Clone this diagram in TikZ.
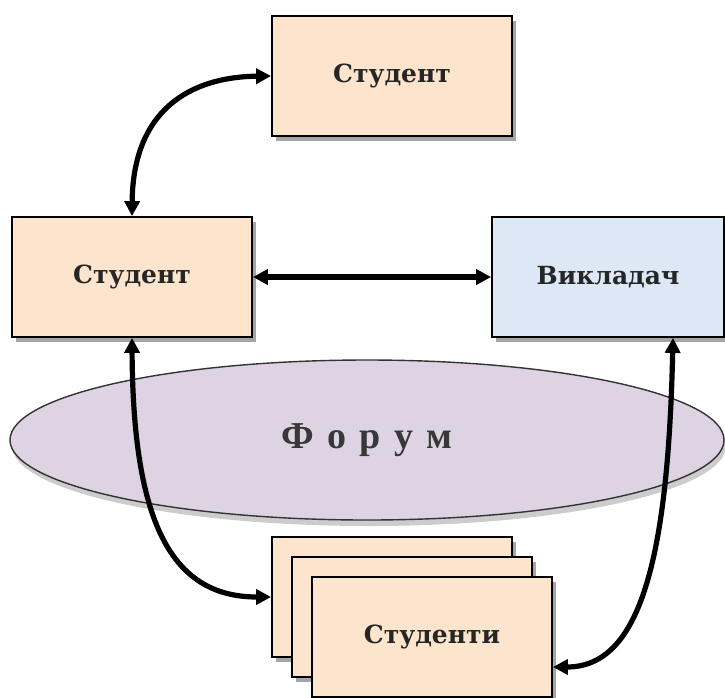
\documentclass[tikz,border=0pt]{standalone}
\usepackage{fontspec}
\setmainfont{Liberation Serif}
\newfontfamily\labelfont{DejaVu Serif}
\usetikzlibrary{arrows.meta,shadows,shapes.geometric}
\definecolor{peach}{RGB}{253,228,204}
\definecolor{lightblue}{RGB}{220,232,246}
\definecolor{lavender}{RGB}{221,211,227}
\definecolor{shadowgray}{RGB}{165,165,165}
\begin{document}
\begin{tikzpicture}[x=1pt,y=-1pt,
  box/.style={draw=black,line width=1.8pt,minimum width=240pt,minimum height=120pt,inner sep=0pt,
    font=\labelfont\fontsize{25}{28}\selectfont\bfseries,text=black!85,
    drop shadow={shadow xshift=4pt,shadow yshift=-5pt,fill=shadowgray,opacity=1}},
  conn/.style={line width=5.2pt,{Triangle[length=15pt,width=15pt]}-{Triangle[length=15pt,width=15pt]}}
]
\useasboundingbox (0,0) rectangle (725,697);
\node[box,fill=peach] (T) at (392,76) {Студент};
\node[box,fill=peach] (L) at (132,277) {Студент};
\node[box,fill=lightblue,minimum width=232pt] (R) at (608,277) {Викладач};
\node[ellipse,draw=black!80,line width=1.4pt,fill=lavender,minimum width=714pt,minimum height=160pt,inner sep=0pt,
  drop shadow={shadow xshift=2pt,shadow yshift=-6pt,fill=black!20,opacity=1},
  font=\fontsize{38}{40}\selectfont\bfseries,text=black!78] (F) at (367,440) {Ф\hspace{0.35em}о\hspace{0.35em}р\hspace{0.35em}у\hspace{0.35em}м};
\node[box,fill=peach] (S1) at (392,597) {};
\node[box,fill=peach] (S2) at (412,617) {};
\node[box,fill=peach] (S3) at (432,637) {Студенти};
\draw[conn] (L.north) .. controls (133,110) and (190,77) .. (T.west);
\draw[conn] (L.east) -- (R.west);
\draw[conn] (L.south) .. controls (133,520) and (170,597) .. (S1.west);
\draw[conn] ([xshift=65pt]R.south) .. controls (668,560) and (640,667) .. ([yshift=-30pt]S3.east);
\end{tikzpicture}
\end{document}
